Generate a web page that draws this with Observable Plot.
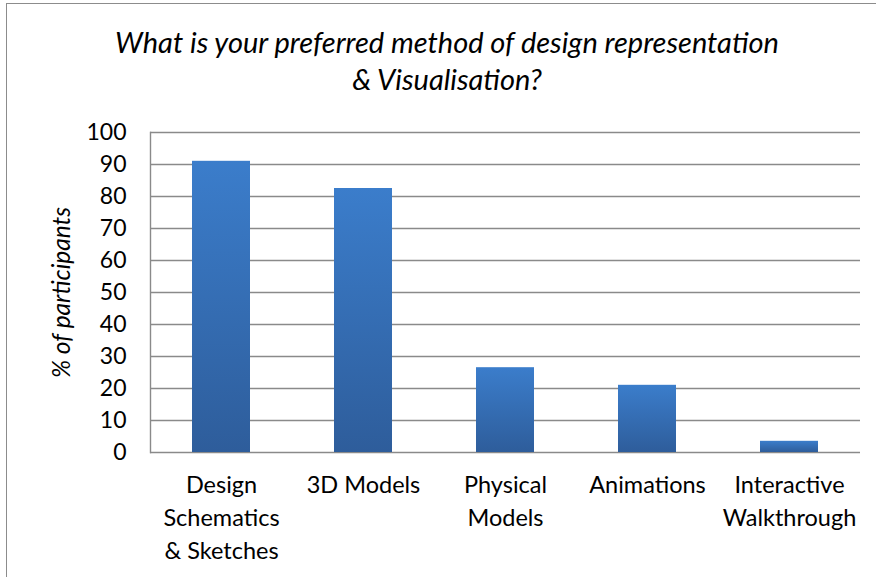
<!DOCTYPE html>
<html><head><meta charset="utf-8">
<script src="https://cdn.jsdelivr.net/npm/d3@7"></script>
<script src="https://cdn.jsdelivr.net/npm/@observablehq/plot@0.6"></script>
<style>
html,body{margin:0;padding:0;background:#fff;width:876px;height:578px;overflow:hidden;font-family:Lato,"Open Sans",sans-serif;}
#frame{position:absolute;left:6px;top:3px;width:870px;height:574px;border-left:1.5px solid #8c8c8c;border-top:1.5px solid #8c8c8c;box-sizing:border-box;z-index:5;pointer-events:none;}
#title{position:absolute;left:6px;width:882px;top:23px;text-align:center;font-style:italic;font-size:29px;line-height:37px;color:#000;}
#chart{position:absolute;left:0;top:110px;width:876px;height:468px;overflow:hidden;}
</style>
</head><body>
<div id="frame"></div>
<div id="title">What is your preferred method of design representation<br>&amp; Visualisation?</div>
<div id="chart"></div>
<script>
const categories = ["Design\nSchematics\n& Sketches", "3D Models", "Physical\nModels", "Animations", "Interactive\nWalkthrough"];
const values = [91, 82.5, 26.5, 21, 3.5];
const yTicks = [0, 10, 20, 30, 40, 50, 60, 70, 80, 90, 100];
const yLabel = "% of participants";

const data = categories.map((c, i) => ({category: c, value: values[i]}));

const chart = Plot.plot({
  width: 876,
  height: 468,
  marginLeft: 150,
  marginRight: 16,
  marginTop: 22,
  marginBottom: 126,
  style: {fontFamily: "Lato, 'Open Sans', sans-serif", background: "transparent", color: "#000", display: "block"},
  x: {domain: categories, paddingInner: 0.592, paddingOuter: 0.296},
  y: {domain: [0, 100]},
  marks: [
    Plot.gridY(yTicks, {stroke: "#8a8a8a", strokeOpacity: 1, strokeWidth: 1.4}),
    Plot.frame({anchor: "left", stroke: "#8a8a8a", strokeWidth: 1.4}),
    Plot.barY(data, {x: "category", y: "value", fill: "url(#barGrad)", style: "filter:url(#barShadow)"}),
    Plot.axisY(yTicks, {tickSize: 0, tickPadding: 24, fontSize: 23, label: null}),
    Plot.axisX({tickSize: 0, tickPadding: 17, fontSize: 23.5, lineHeight: 1.4, label: null}),
    Plot.text([yLabel], {frameAnchor: "left", dx: -88, rotate: -90, fontSize: 24.5, fontStyle: "italic", textAnchor: "middle"})
  ]
});

const svg = d3.select(chart);
const defs = svg.insert("defs", ":first-child");
const g = defs.append("linearGradient").attr("id", "barGrad").attr("x1", 0).attr("y1", 0).attr("x2", 0).attr("y2", 1);
g.append("stop").attr("offset", "0%").attr("stop-color", "#3b7dcb");
g.append("stop").attr("offset", "100%").attr("stop-color", "#2e5d9b");
const f = defs.append("filter").attr("id", "barShadow").attr("x", "-20%").attr("y", "-20%").attr("width", "140%").attr("height", "140%");
f.append("feDropShadow").attr("dx", 1).attr("dy", 2).attr("stdDeviation", 2).attr("flood-color", "#000").attr("flood-opacity", 0.25);

document.getElementById("chart").appendChild(chart);
</script>
</body></html>
